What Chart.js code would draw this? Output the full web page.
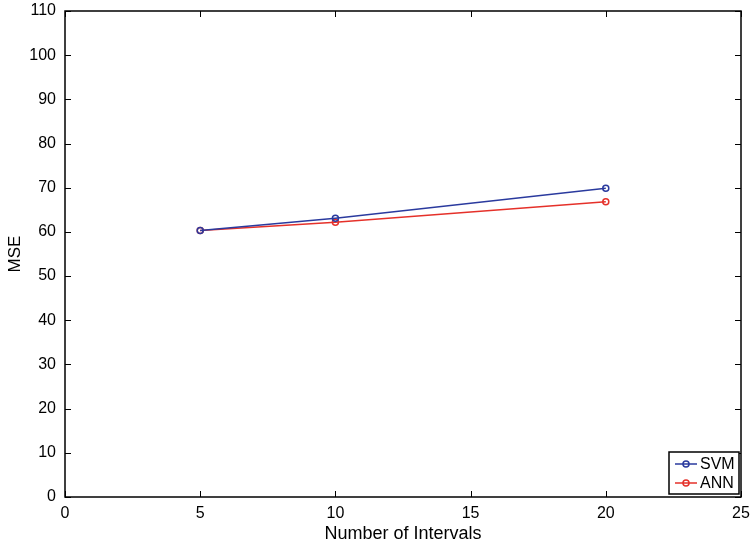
<!DOCTYPE html>
<html lang="en">
<head>
    <meta charset="UTF-8">
    <title>MSE vs Number of Intervals</title>
    <script src="https://cdn.jsdelivr.net/npm/chart.js"></script>
    <style>
        html, body { margin: 0; padding: 0; background: #fff; }
        #wrap { width: 754px; height: 548px; }
    </style>
</head>
<body>
    <div id="wrap"><canvas id="mseChart" width="754" height="548"></canvas></div>

    <script>
        const intervals = [5, 10, 20];
        const svmValues = [60.3, 63.1, 69.9];
        const annValues = [60.3, 62.2, 66.8];
        const seriesNames = ['SVM', 'ANN'];
        const seriesColors = ['#2a3a9e', '#e5312a'];

        const FONT = 'Liberation Sans, Arial, Helvetica, sans-serif';

        const toPoints = (vals) => intervals.map((x, i) => ({ x: x, y: vals[i] }));

        // box round the plot + inward tick marks, MATLAB style
        const boxPlugin = {
            id: 'box',
            afterDraw(chart) {
                const { ctx, chartArea: a, scales } = chart;
                ctx.save();
                ctx.strokeStyle = '#000';
                ctx.lineWidth = 1.5;
                ctx.strokeRect(a.left, a.top, a.right - a.left, a.bottom - a.top);
                ctx.lineWidth = 1;
                const len = 6;
                scales.x.ticks.forEach(t => {
                    const px = Math.round(scales.x.getPixelForValue(t.value)) + 0.5;
                    ctx.beginPath();
                    ctx.moveTo(px, a.bottom); ctx.lineTo(px, a.bottom - len);
                    ctx.moveTo(px, a.top); ctx.lineTo(px, a.top + len);
                    ctx.stroke();
                });
                scales.y.ticks.forEach(t => {
                    const py = Math.round(scales.y.getPixelForValue(t.value)) + 0.5;
                    ctx.beginPath();
                    ctx.moveTo(a.left, py); ctx.lineTo(a.left + len, py);
                    ctx.moveTo(a.right, py); ctx.lineTo(a.right - len, py);
                    ctx.stroke();
                });

                // legend, bottom right inside the axes
                const w = 70, h = 42;
                const lx = a.right - w - 2, ly = a.bottom - h - 3;
                ctx.fillStyle = '#fff';
                ctx.fillRect(lx, ly, w, h);
                ctx.strokeStyle = '#000';
                ctx.lineWidth = 1.5;
                ctx.strokeRect(lx, ly, w, h);
                ctx.font = '16px ' + FONT;
                ctx.textBaseline = 'middle';
                seriesNames.forEach((name, i) => {
                    const y = ly + 12 + i * 19;
                    ctx.strokeStyle = seriesColors[i];
                    ctx.lineWidth = 1.5;
                    ctx.beginPath();
                    ctx.moveTo(lx + 6, y); ctx.lineTo(lx + 28, y);
                    ctx.stroke();
                    ctx.beginPath();
                    ctx.arc(lx + 17, y, 3, 0, Math.PI * 2);
                    ctx.stroke();
                    ctx.fillStyle = '#000';
                    ctx.fillText(name, lx + 31, y + 1);
                });
                ctx.restore();
            }
        };

        const ds = (label, vals, color) => ({
            label: label,
            data: toPoints(vals),
            borderColor: color,
            backgroundColor: 'rgba(0,0,0,0)',
            pointBorderColor: color,
            pointBackgroundColor: 'rgba(0,0,0,0)',
            pointRadius: 3,
            pointBorderWidth: 1.5,
            borderWidth: 1.5,
            tension: 0,
        });

        new Chart(document.getElementById('mseChart'), {
            type: 'line',
            data: {
                datasets: [
                    ds(seriesNames[0], svmValues, seriesColors[0]),
                    ds(seriesNames[1], annValues, seriesColors[1]),
                ],
            },
            plugins: [boxPlugin],
            options: {
                responsive: false,
                animation: false,
                layout: { padding: { top: 11, right: 13, left: 0, bottom: 0 } },
                plugins: { legend: { display: false }, tooltip: { enabled: false } },
                scales: {
                    x: {
                        type: 'linear', min: 0, max: 25,
                        grid: { display: false, drawTicks: false },
                        border: { display: false },
                        ticks: { stepSize: 5, color: '#000', padding: 7, font: { family: FONT, size: 16 } },
                        title: { display: true, text: 'Number of Intervals', color: '#000', padding: { top: 0, bottom: 3 }, font: { family: FONT, size: 18 } },
                        afterFit(s) { s.height = 51; s.paddingLeft = 0; s.paddingRight = 0; },
                    },
                    y: {
                        min: 0, max: 110,
                        grid: { display: false, drawTicks: false },
                        border: { display: false },
                        ticks: { stepSize: 10, color: '#000', padding: 9, font: { family: FONT, size: 16 } },
                        title: { display: true, text: 'MSE', color: '#000', padding: { top: 5, bottom: 0 }, font: { family: FONT, size: 17 } },
                        afterFit(s) { s.width = 65; s.paddingTop = 0; s.paddingBottom = 0; },
                    },
                },
            },
        });
    </script>
</body>
</html>
